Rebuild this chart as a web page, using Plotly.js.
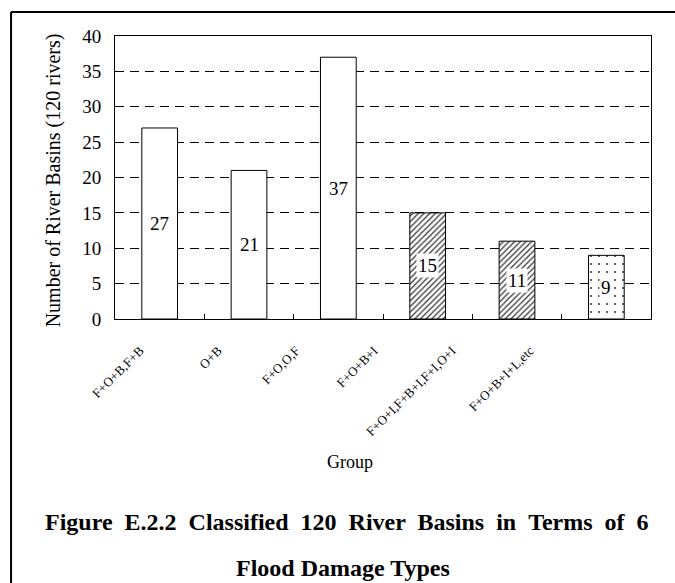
<!DOCTYPE html>
<html>
<head>
<meta charset="utf-8">
<script src="https://cdn.plot.ly/plotly-3.0.1.min.js"></script>
<style>
  html, body { margin: 0; padding: 0; background: #fff; }
  #chart { width: 675px; height: 583px; }
</style>
</head>
<body>
<div id="chart"></div>
<script>
// Flood damage groups and the number of river basins in each
const groups = ["F+O+B,F+B", "O+B", "F+O,O,F", "F+O+B+I", "F+O+I,F+B+I,F+I,O+I", "F+O+B+I+L,etc"];
const basinCounts = [27, 21, 37, 15, 11, 9];
const fillPatterns = ["", "", "", "/", "/", "."];
const yTicks = [0, 5, 10, 15, 20, 25, 30, 35, 40];

const serif = "Liberation Serif, Times New Roman, serif";

const bars = {
  type: "bar",
  x: groups,
  y: basinCounts,
  width: 0.4,
  marker: {
    color: "#ffffff",
    line: { color: "#000000", width: 1 },
    pattern: {
      shape: fillPatterns,
      fgcolor: "#333333",
      bgcolor: "#ffffff",
      size: fillPatterns.map(p => p === "." ? 8 : 4),
      solidity: fillPatterns.map(p => p === "." ? 0.05 : 0.3)
    }
  },
  hoverinfo: "x+y"
};

// Invisible companion trace on its own axes; it carries the slanted group labels
const labelCarrier = {
  type: "scatter",
  mode: "none",
  x: groups,
  y: basinCounts,
  xaxis: "x2",
  yaxis: "y2",
  hoverinfo: "skip",
  showlegend: false
};

// Value labels in the middle of each bar, on a white box
const valueLabels = groups.map((g, i) => ({
  x: g,
  y: basinCounts[i] / 2,
  xref: "x",
  yref: "y",
  xanchor: "center",
  yanchor: "middle",
  text: String(basinCounts[i]),
  showarrow: false,
  bgcolor: "#ffffff",
  borderpad: 1,
  font: { family: serif, size: 19, color: "#000" }
}));

const sp = "&nbsp;";
const titleLine1 = ["Figure", "E.2.2", "Classified", "120", "River", "Basins", "in", "Terms", "of", "6"].join(" " + sp);

const textNotes = [
  {
    x: -0.0755, y: 0.49, xref: "paper", yref: "paper",
    xanchor: "center", yanchor: "middle",
    text: "Number of River Basins (120 rivers)", textangle: -90,
    showarrow: false, font: { family: serif, size: 20, color: "#000" }
  },
  {
    x: 0.4586, y: -0.505, xref: "paper", yref: "paper",
    xanchor: "center", yanchor: "middle",
    text: "Group", showarrow: false,
    font: { family: serif, size: 18, color: "#000" }
  },
  {
    x: 0.453, y: -0.717, xref: "paper", yref: "paper",
    xanchor: "center", yanchor: "middle",
    text: "<b>" + titleLine1 + "</b>",
    showarrow: false, font: { family: serif, size: 24, color: "#000" }
  },
  {
    x: 0.446, y: -0.880, xref: "paper", yref: "paper",
    xanchor: "center", yanchor: "middle",
    text: "<b>Flood Damage Types</b>",
    showarrow: false, font: { family: serif, size: 24, color: "#000" }
  }
];

// Outer frame: top and left edges of the figure box
const frame = [
  { type: "line", xref: "paper", yref: "paper", x0: -0.151, x1: 1.1, y0: 1.0848, y1: 1.0848,
    line: { color: "#000", width: 2 } },
  { type: "line", xref: "paper", yref: "paper", x0: -0.151, x1: -0.151, y0: 1.0848, y1: -1.0,
    line: { color: "#000", width: 2 } }
];

const layout = {
  width: 675,
  height: 583,
  margin: { l: 95, r: 24, t: 36, b: 264 },
  paper_bgcolor: "#ffffff",
  plot_bgcolor: "rgba(0,0,0,0)",
  showlegend: false,
  xaxis: {
    type: "category",
    domain: [0.036, 1],
    range: [-0.5, 5.5],
    showticklabels: false,
    ticks: "inside",
    tickson: "boundaries",
    ticklen: 5,
    tickcolor: "#000",
    showgrid: false,
    showline: true,
    linecolor: "#000",
    linewidth: 1,
    mirror: true,
    fixedrange: true
  },
  xaxis2: {
    type: "category",
    anchor: "free",
    position: 0,
    side: "bottom",
    domain: [0.0108, 0.8525],
    range: [-0.5, 5.5],
    categoryarray: groups,
    tickangle: -45,
    ticks: "outside",
    ticklen: 18,
    tickcolor: "rgba(0,0,0,0)",
    showgrid: false,
    showline: false,
    zeroline: false,
    tickfont: { family: serif, size: 13, color: "#000" },
    fixedrange: true
  },
  yaxis: {
    range: [0, 40],
    tickvals: yTicks,
    ticks: "outside",
    ticklen: 9,
    tickcolor: "rgba(0,0,0,0)",
    showgrid: true,
    gridcolor: "#000",
    gridwidth: 1,
    griddash: "9px,6px",
    zeroline: false,
    showline: true,
    linecolor: "#000",
    linewidth: 1,
    mirror: true,
    tickfont: { family: serif, size: 19, color: "#000" },
    fixedrange: true
  },
  yaxis2: {
    anchor: "x2",
    range: [0, 40],
    visible: false,
    showgrid: false,
    zeroline: false,
    fixedrange: true
  },
  annotations: valueLabels.concat(textNotes),
  shapes: frame
};

Plotly.newPlot("chart", [bars, labelCarrier], layout, { displayModeBar: false, staticPlot: true });
</script>
</body>
</html>
